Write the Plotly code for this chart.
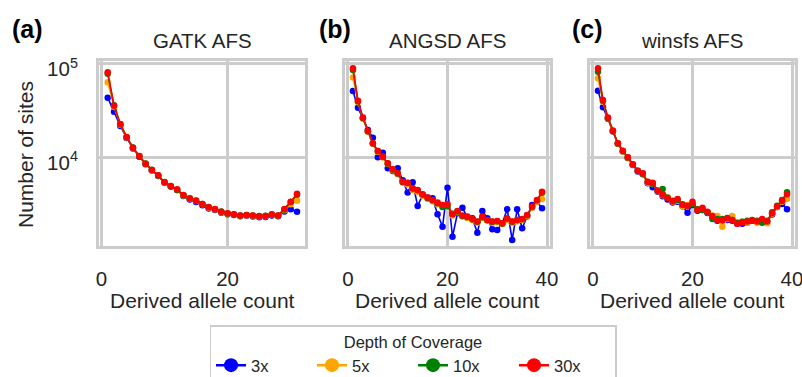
import plotly.graph_objects as go

# ---------------- data ----------------
depths = ["3x", "5x", "10x", "30x"]
colors = ["blue", "orange", "green", "red"]

gatk_x = list(range(1, 32))
gatk_3x = [43600, 30900, 21700, 16200, 12500, 10200, 8480, 7250, 6350, 5350, 4880, 4480, 3880, 3560, 3340,
           3080, 2850, 2740, 2560, 2470, 2420, 2350, 2380, 2330, 2300, 2310, 2400, 2350, 2650, 2790, 2630]
gatk_5x = [63700, 34800, 22400, 16400, 12600, 10350, 8550, 7300, 6420, 5400, 4940, 4520, 3930, 3620, 3420,
           3150, 2900, 2780, 2600, 2500, 2450, 2360, 2400, 2370, 2330, 2350, 2440, 2380, 2720, 3150, 3450]
gatk_10x = [78500, 36200, 22600, 16500, 12800, 10300, 8600, 7400, 6400, 5450, 4900, 4480, 3950, 3640, 3470,
            3170, 2950, 2790, 2640, 2520, 2460, 2400, 2420, 2400, 2360, 2380, 2450, 2400, 2780, 3330, 4000]
gatk_30x = [81500, 35800, 22800, 16600, 12700, 10400, 8590, 7350, 6440, 5430, 4960, 4570, 3970, 3660, 3450,
            3180, 2930, 2810, 2630, 2530, 2470, 2390, 2430, 2390, 2350, 2370, 2470, 2390, 2810, 3370, 4100]

angsd_x = list(range(1, 40))
angsd_3x = [51400, 34100, 26200, 19700, 16300, 10050, 11250, 7660, 7180, 7660, 5700, 4210, 5430, 3030, 3970,
            3720, 3660, 2470, 1820, 4750, 1420, 2530, 2900, 2270, 2240, 1570, 2680, 2240, 1710, 1680,
            1980, 2790, 1310, 2790, 1750, 2330, 3100, 3370, 2860]
angsd_5x = [71500, 39000, 26000, 18900, 14000, 11500, 10000, 8500, 7300, 6600, 5350, 5150, 4500, 4300, 3900,
            3600, 3400, 3150, 3000, 3050, 2400, 2600, 2330, 2250, 2150, 2000, 2250, 2100, 2000, 2030,
            1930, 2150, 2000, 2080, 2150, 2350, 2900, 3350, 3600]
angsd_10x = [86000, 40000, 26500, 19100, 14100, 11700, 10150, 8600, 7450, 6750, 5480, 5330, 4650, 4460, 4010,
             3690, 3480, 3240, 2950, 3000, 2500, 2650, 2370, 2310, 2190, 2050, 2300, 2140, 2050, 2080,
             1970, 2220, 2050, 2140, 2190, 2410, 2950, 3480, 4200]
angsd_30x = [90000, 40500, 26700, 19200, 14200, 11750, 10200, 8670, 7480, 6780, 5510, 5370, 4680, 4490, 4040,
             3720, 3510, 3290, 3100, 3180, 2470, 2680, 2390, 2330, 2200, 2060, 2330, 2150, 2060, 2090,
             1980, 2240, 2060, 2150, 2200, 2430, 2980, 3510, 4310]

winsfs_x = list(range(1, 40))
winsfs_3x = [51800, 34400, 26000, 19000, 14000, 11600, 9900, 8300, 7100, 6600, 5300, 4800, 4300, 3850, 3550,
             3300, 3350, 3000, 2570, 3100, 2700, 2750, 2550, 2350, 2100, 2100, 2150, 2100, 1950, 1950,
             2000, 2100, 2050, 2150, 2050, 2450, 2950, 3180, 2790]
winsfs_5x = [70300, 39500, 26200, 19100, 14000, 11600, 9950, 8350, 7150, 6650, 5350, 5200, 4350, 3950, 3750,
             3350, 3450, 3000, 3100, 3250, 2800, 2800, 2600, 2400, 2370, 1820, 2200, 2370, 2000, 2050,
             2000, 2150, 2000, 2150, 1980, 2500, 2950, 3350, 3600]
winsfs_10x = [82800, 40500, 26500, 19200, 14100, 11700, 10000, 8400, 7200, 6700, 5450, 5250, 4400, 4600, 3700,
              3450, 3500, 3150, 3000, 3150, 2800, 2750, 2600, 2200, 2200, 2200, 2250, 2150, 2000, 2050,
              2100, 2150, 2100, 2000, 2100, 2600, 3050, 3500, 4250]
winsfs_30x = [90000, 41200, 26700, 19400, 14200, 11800, 10050, 8450, 7230, 6780, 5510, 5370, 4440, 4000, 3690,
              3400, 3600, 3100, 3050, 3370, 2750, 2900, 2630, 2370, 2150, 2150, 2240, 2150, 1950, 2010,
              2060, 2110, 2060, 2200, 2060, 2530, 2980, 3430, 4040]

panel_titles = ["GATK AFS", "ANGSD AFS", "winsfs AFS"]
panel_letters = ["(a)", "(b)", "(c)"]
x_title = "Derived allele count"
y_title = "Number of sites"
y_tickvals = [1e4, 1e5]
y_ticktext = ["10<sup>4</sup>", "10<sup>5</sup>"]

panels = [
    (gatk_x, [gatk_3x, gatk_5x, gatk_10x, gatk_30x], [0, 20]),
    (angsd_x, [angsd_3x, angsd_5x, angsd_10x, angsd_30x], [0, 20, 40]),
    (winsfs_x, [winsfs_3x, winsfs_5x, winsfs_10x, winsfs_30x], [0, 20, 40]),
]

# ---------------- layout geometry ----------------
W, H = 802, 377
FONT = "Liberation Sans, Arial, sans-serif"
TXT = "#262626"
GRID = "#cccccc"

def px(x):
    return x / W

def py(y):
    return 1 - y / H

x_domains = [(99, 305), (345, 550), (590, 795)]
x_ranges = [[-0.38, 32.26], [-0.6, 40.6], [-0.6, 40.6]]
y_top, y_bot = 61, 246
y_range = [3.053, 5.032]

fig = go.Figure()

for i, (xs, series, xt) in enumerate(panels):
    ax = "" if i == 0 else str(i + 1)
    for name, col, ys in zip(depths, colors, series):
        fig.add_trace(go.Scatter(
            x=xs, y=ys, mode="lines+markers", name=name,
            line=dict(color=col, width=1.6),
            marker=dict(color=col, size=6.5),
            xaxis="x" + ax, yaxis="y" + ax, showlegend=False,
        ))
    fig.update_layout(**{
        "xaxis" + ax: dict(
            domain=[px(x_domains[i][0]), px(x_domains[i][1])],
            range=x_ranges[i], tickvals=xt, showgrid=True, gridcolor=GRID, gridwidth=3,
            showline=True, mirror=True, linecolor=GRID, linewidth=3, zeroline=False,
            ticks="", ticklabelstandoff=12, ticklabeloverflow="allow",
            tickfont=dict(size=20.5, color=TXT, family=FONT),
            anchor="y" + ax,
        ),
        "yaxis" + ax: dict(
            domain=[py(y_bot), py(y_top)], type="log", range=y_range,
            tickvals=y_tickvals, ticktext=y_ticktext, showticklabels=(i == 0),
            showgrid=True, gridcolor=GRID, gridwidth=3,
            showline=True, mirror=True, linecolor=GRID, linewidth=3, zeroline=False,
            ticks="", ticklabelstandoff=14, ticklabelshift=5,
            tickfont=dict(size=20.5, color=TXT, family=FONT),
            anchor="x" + ax,
        ),
    })

# legend entries (styled bigger like the reference legend)
for name, col in zip(depths, colors):
    fig.add_trace(go.Scatter(
        x=[None], y=[None], mode="lines+markers", name=name,
        line=dict(color=col, width=2.5), marker=dict(color=col, size=14),
        showlegend=True,
    ))

annotations = []
centers = [202, 447, 692]
letter_x = [27, 335, 587]
for i in range(3):
    annotations.append(dict(text=panel_titles[i], x=px(centers[i]), y=py(40), xref="paper", yref="paper",
                            showarrow=False, xanchor="center", yanchor="middle",
                            font=dict(size=20.5, color=TXT, family=FONT)))
    annotations.append(dict(text="<b>" + panel_letters[i] + "</b>", x=px(letter_x[i]), y=py(29),
                            xref="paper", yref="paper", showarrow=False, xanchor="center", yanchor="middle",
                            font=dict(size=25, color="black", family=FONT)))
    annotations.append(dict(text=x_title, x=px(centers[i]), y=py(300), xref="paper", yref="paper",
                            showarrow=False, xanchor="center", yanchor="middle",
                            font=dict(size=21, color=TXT, family=FONT)))
annotations.append(dict(text=y_title, x=px(25), y=py(155), xref="paper", yref="paper", textangle=-90,
                        showarrow=False, xanchor="center", yanchor="middle",
                        font=dict(size=21, color=TXT, family=FONT)))

fig.update_layout(
    width=W, height=H,
    margin=dict(l=0, r=0, t=0, b=0, autoexpand=False),
    paper_bgcolor="white", plot_bgcolor="white",
    annotations=annotations,
    font=dict(family=FONT, color=TXT),
    legend=dict(
        orientation="h", x=px(413), xanchor="center", y=py(325), yanchor="top",
        title=dict(text="Depth of Coverage", side="top center", font=dict(size=16.5, color=TXT, family=FONT)),
        font=dict(size=16.5, color=TXT, family=FONT),
        bordercolor=GRID, borderwidth=1.5, bgcolor="white",
        entrywidth=56, itemwidth=30,
    ),
)

fig.write_html("out.html", config={"displayModeBar": False},
               post_script="document.body.style.margin='0px';document.body.style.overflow='hidden';")
